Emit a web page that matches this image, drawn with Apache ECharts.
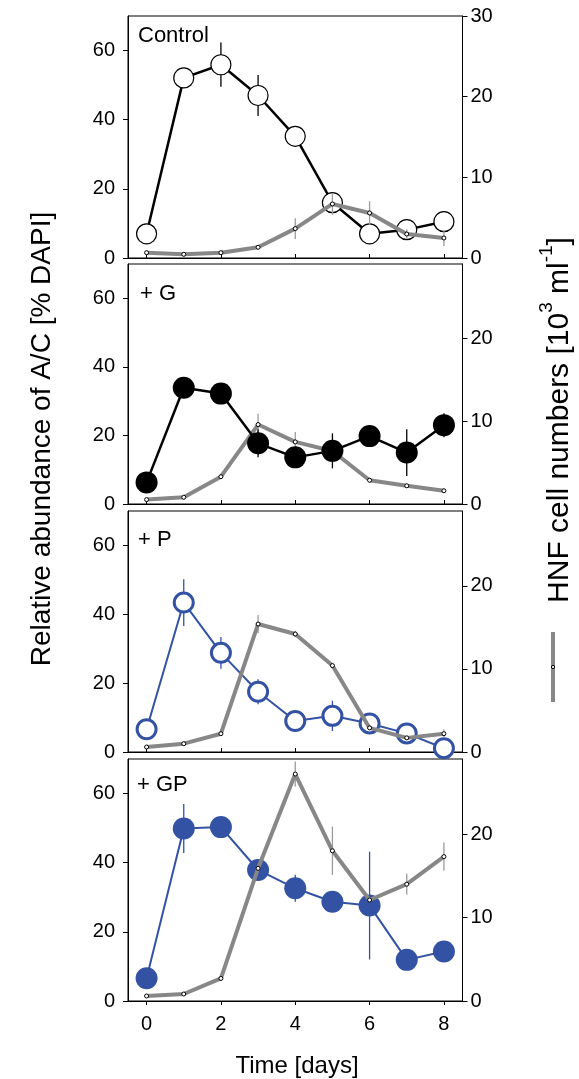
<!DOCTYPE html>
<html>
<head>
<meta charset="utf-8">
<title>A/C abundance and HNF cell numbers</title>
<script src="https://cdn.jsdelivr.net/npm/echarts@6/dist/echarts.min.js"></script>
<style>
  html, body { margin: 0; padding: 0; background: #fff; }
  #chart { width: 579px; height: 1079px; }
</style>
</head>
<body>
<div id="chart"></div>
<script>
// Sampling days
const days = [0, 1, 2, 3, 4, 5, 6, 7, 8];
const xTickValues = [0, 2, 4, 6, 8];
const leftTickValues = [0, 20, 40, 60];
const rightTickValuesTop = [0, 10, 20, 30];
const rightTickValues = [0, 10, 20];

// Treatment labels
const treatments = ['Control', '+ G', '+ P', '+ GP'];

// Relative abundance of A/C [% DAPI] and error (null = not shown)
const controlAC = [7.0, 52.1, 55.9, 47.0, 35.2, 16.0, 7.0, 8.2, 10.5];
const controlACErr = [null, null, 6.4, 5.9, null, null, null, null, null];
const gAC = [6.3, 33.9, 32.2, 17.7, 13.6, 15.5, 19.8, 15.0, 23.0];
const gACErr = [null, null, null, 4.1, null, 5.1, null, 6.8, 3.5];
const pAC = [6.6, 43.4, 28.8, 17.5, 9.0, 10.5, 8.3, 5.4, 1.1];
const pACErr = [null, 6.8, 4.6, 3.6, null, 4.4, null, null, null];
const gpAC = [6.6, 49.9, 50.3, 37.9, 32.6, 28.7, 27.6, 11.9, 14.3];
const gpACErr = [null, 7.1, null, null, 3.9, null, 15.6, null, null];

// HNF cell numbers [10^3 ml^-1] and error
const controlHNF = [0.66, 0.46, 0.66, 1.33, 3.64, 6.7, 5.58, 2.97, 2.48];
const controlHNFErr = [null, null, null, null, 1.3, 1.35, 1.45, 0.6, 1.0];
const gHNF = [0.53, 0.81, 3.3, 9.6, 7.5, 6.4, 2.87, 2.2, 1.6];
const gHNFErr = [null, null, null, 1.3, 1.2, null, null, null, null];
const pHNF = [0.6, 1.0, 2.2, 15.4, 14.2, 10.4, 2.9, 1.7, 2.2];
const pHNFErr = [null, null, null, 1.1, 0.4, null, null, null, 0.5];
const gpHNF = [0.6, 0.84, 2.7, 15.9, 27.2, 18.0, 12.1, 14.0, 17.3];
const gpHNFErr = [null, null, null, null, 1.5, 2.9, null, 1.25, 1.7];

const acSets = [controlAC, gAC, pAC, gpAC];
const acErrSets = [controlACErr, gACErr, pACErr, gpACErr];
const hnfSets = [controlHNF, gHNF, pHNF, gpHNF];
const hnfErrSets = [controlHNFErr, gHNFErr, pHNFErr, gpHNFErr];

const FONT = 'Liberation Sans, Arial, sans-serif';
const BLUE = '#3452a4';
const GREY = '#878787';
const GREY_ERR = '#9b9b9b';

// Panel layout
const tops = [16, 264, 511, 759];
const heights = [242, 240, 241, 242];
const rightMax = [30, 29, 29, 29];

// Marker styles per treatment
const markerStyles = [
  { fill: '#fff', border: '#000', borderWidth: 1.2, size: 20, line: '#000', lineWidth: 2.5 },
  { fill: '#000', border: '#000', borderWidth: 0, size: 22, line: '#000', lineWidth: 2.5 },
  { fill: '#fff', border: BLUE, borderWidth: 3, size: 19, line: BLUE, lineWidth: 2 },
  { fill: BLUE, border: BLUE, borderWidth: 0, size: 22, line: BLUE, lineWidth: 2 }
];

const grids = [], xAxes = [], yAxes = [], series = [];

function errorSeries(i, yIdx, vals, errs, color, z) {
  const data = days.map((d, k) => [d, vals[k], errs[k]]).filter(r => r[2] != null);
  return {
    type: 'custom',
    xAxisIndex: i,
    yAxisIndex: yIdx,
    z: z,
    silent: true,
    data: data,
    renderItem: function (params, api) {
      const x = api.value(0), y = api.value(1), e = api.value(2);
      const a = api.coord([x, y - e]);
      const b = api.coord([x, y + e]);
      return {
        type: 'line',
        shape: { x1: a[0], y1: a[1], x2: b[0], y2: b[1] },
        style: { stroke: color, lineWidth: 1.3 }
      };
    }
  };
}

for (let i = 0; i < 4; i++) {
  const last = i === 3;
  grids.push({
    left: 128, width: 334.5, top: tops[i], height: heights[i],
    show: true, borderColor: '#000', borderWidth: 1, backgroundColor: 'transparent'
  });
  xAxes.push({
    type: 'value', gridIndex: i, min: -0.5, max: 8.5,
    axisLine: { show: true, onZero: false, lineStyle: { color: '#000', width: 1 } },
    axisTick: { show: true, inside: !last, length: 4, customValues: xTickValues, lineStyle: { color: '#000' } },
    axisLabel: {
      show: last, customValues: xTickValues, margin: 13,
      color: '#000', fontSize: 20, fontFamily: FONT
    },
    splitLine: { show: false }
  });
  yAxes.push({
    type: 'value', gridIndex: i, position: 'left', min: 0, max: 70,
    axisLine: { show: true, onZero: false, lineStyle: { color: '#000', width: 1 } },
    axisTick: { show: true, length: 5, customValues: leftTickValues, lineStyle: { color: '#000' } },
    axisLabel: { customValues: leftTickValues, margin: 13, color: '#000', fontSize: 20, fontFamily: FONT },
    splitLine: { show: false }
  });
  const rTicks = i === 0 ? rightTickValuesTop : rightTickValues;
  yAxes.push({
    type: 'value', gridIndex: i, position: 'right', min: 0, max: rightMax[i],
    axisLine: { show: true, onZero: false, lineStyle: { color: '#000', width: 1 } },
    axisTick: { show: true, length: 5, customValues: rTicks, lineStyle: { color: '#000' } },
    axisLabel: { customValues: rTicks, margin: 8, color: '#000', fontSize: 20, fontFamily: FONT },
    splitLine: { show: false }
  });

  const m = markerStyles[i];
  // In the +G panel the A/C markers sit above the HNF line; elsewhere the HNF line is on top.
  const acOnTop = i === 1;
  const zAC = acOnTop ? 4 : 2;
  const zHNF = acOnTop ? 2 : 4;

  series.push(errorSeries(i, 2 * i, acSets[i], acErrSets[i], m.line, zAC - 1));
  series.push({
    type: 'line', name: treatments[i], xAxisIndex: i, yAxisIndex: 2 * i, z: zAC,
    data: days.map((d, k) => [d, acSets[i][k]]),
    symbol: 'circle', symbolSize: m.size, showAllSymbol: true,
    lineStyle: { color: m.line, width: m.lineWidth },
    itemStyle: { color: m.fill, borderColor: m.border, borderWidth: m.borderWidth, opacity: 1 },
    emphasis: { disabled: true }, animation: false
  });
  series.push(errorSeries(i, 2 * i + 1, hnfSets[i], hnfErrSets[i], GREY_ERR, zHNF - 1));
  series.push({
    type: 'line', name: 'HNF ' + treatments[i], xAxisIndex: i, yAxisIndex: 2 * i + 1, z: zHNF,
    data: days.map((d, k) => [d, hnfSets[i][k]]),
    symbol: 'circle', symbolSize: 4, showAllSymbol: true,
    lineStyle: { color: GREY, width: 4 },
    itemStyle: { color: '#fff', borderColor: '#000', borderWidth: 1, opacity: 1 },
    emphasis: { disabled: true }, animation: false
  });
}

// Panel labels and axis titles
const panelLabelPos = [[138, 25], [140, 283], [138, 529], [137, 774]];
const graphics = treatments.map((t, i) => ({
  type: 'text', left: panelLabelPos[i][0], top: panelLabelPos[i][1], z: 10,
  style: { text: t, fill: '#000', fontSize: 22, fontFamily: FONT }
}));

graphics.push({
  type: 'text', x: 297, y: 1066, z: 10,
  style: { text: 'Time [days]', fill: '#000', fontSize: 24, fontFamily: FONT, align: 'center', verticalAlign: 'middle' }
});
graphics.push({
  type: 'text', x: 42, y: 439, rotation: Math.PI / 2, z: 10,
  style: { text: 'Relative abundance of A/C [% DAPI]', fill: '#000', fontSize: 28, fontFamily: FONT, align: 'center', verticalAlign: 'middle' }
});
graphics.push({
  type: 'text', x: 556, y: 420, rotation: Math.PI / 2, z: 10,
  style: {
    text: '{n|HNF cell numbers [10}{s|3}{n| ml}{s|-1}{n|]}',
    fill: '#000', fontFamily: FONT, align: 'center', verticalAlign: 'middle',
    rich: {
      n: { fontSize: 30, fontFamily: FONT, fill: '#000', lineHeight: 38, verticalAlign: 'bottom' },
      s: { fontSize: 19, fontFamily: FONT, fill: '#000', lineHeight: 38, verticalAlign: 'top' }
    }
  }
});
// Legend key for the HNF line
graphics.push({
  type: 'line', z: 10,
  shape: { x1: 553, y1: 632, x2: 553, y2: 702 },
  style: { stroke: GREY, lineWidth: 4 }
});
graphics.push({
  type: 'circle', z: 11,
  shape: { cx: 553, cy: 667, r: 1.6 },
  style: { fill: '#fff', stroke: '#000', lineWidth: 1 }
});

const chart = echarts.init(document.getElementById('chart'), null, { renderer: 'canvas' });
chart.setOption({
  animation: false,
  backgroundColor: '#fff',
  grid: grids,
  xAxis: xAxes,
  yAxis: yAxes,
  series: series,
  graphic: graphics
});
</script>
</body>
</html>
